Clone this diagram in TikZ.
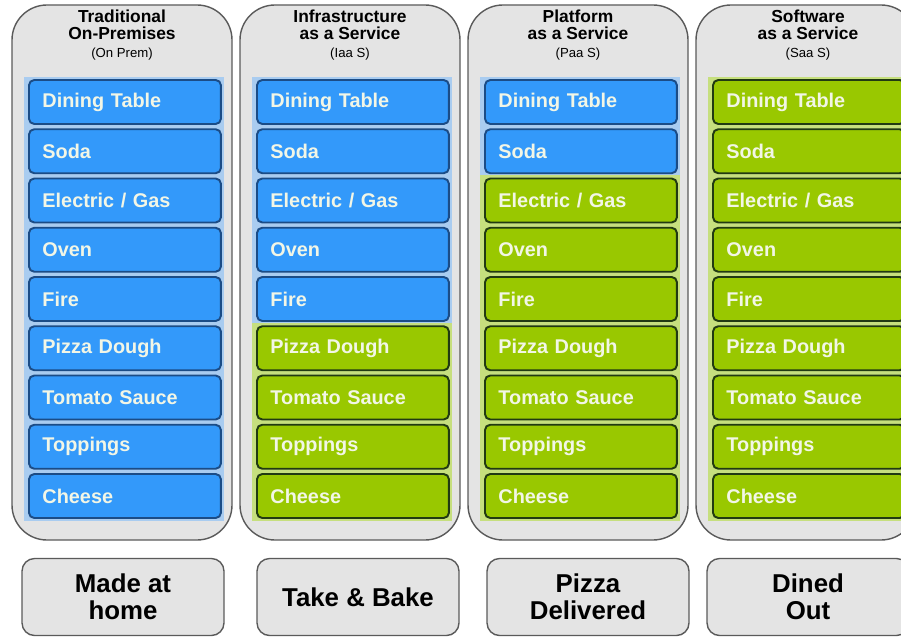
\documentclass[tikz,border=0pt]{standalone}
\usepackage{fontspec}
\setmainfont{Liberation Sans}
\definecolor{colgray}{HTML}{E4E4E4}
\definecolor{coledge}{HTML}{5A5A5A}
\definecolor{itemblue}{HTML}{3399FA}
\definecolor{edgeblue}{HTML}{1B4C86}
\definecolor{bandblue}{HTML}{A9CCF0}
\definecolor{itemgreen}{HTML}{99C800}
\definecolor{edgegreen}{HTML}{213A12}
\definecolor{bandgreen}{HTML}{C6DF7E}
\definecolor{itemtext}{HTML}{F2F6E6}
\tikzset{
  column/.style={draw=coledge, fill=colgray, line width=0.8pt, rounded corners=0.7cm},
  item/.style={draw, line width=1.1pt, rounded corners=3pt, anchor=west,
    minimum height=0.88cm, text width=3.3cm, inner xsep=0.27cm, align=left,
    text=itemtext, font=\fontsize{11.3}{12}\selectfont\bfseries},
  onprem/.style={item, fill=itemblue, draw=edgeblue},
  hosted/.style={item, fill=itemgreen, draw=edgegreen},
  heading/.style={align=center, font=\fontsize{9.9}{9.6}\selectfont\bfseries},
  tag/.style={draw=coledge, fill=colgray, line width=0.8pt, rounded corners=0.25cm,
    minimum width=4.04cm, minimum height=1.54cm, align=center,
    font=\fontsize{14.7}{15.4}\selectfont\bfseries}
}
\newcommand{\subhead}[1]{\\[0.5pt]{\fontsize{7.5}{8}\selectfont\mdseries #1}}
\begin{document}
\begin{tikzpicture}[x=0.02cm, y=-0.02cm]
  \useasboundingbox (0,0) rectangle (901,638);
  \clip (0,0) rectangle (901,638);

  % the four columns
  \foreach \c in {1,...,4}
    \draw[column] ({12+228*(\c-1)},5) rectangle ({232+228*(\c-1)},540);

  \node[heading] (h1) at (122,35) {Traditional\\On-Premises\subhead{(On Prem)}};
  \node[heading] (h2) at (350,35) {Infrastructure\\as a Service\subhead{(Iaa S)}};
  \node[heading] (h3) at (578,35) {Platform\\as a Service\subhead{(Paa S)}};
  \node[heading] (h4) at (808,35) {Software\\as a Service\subhead{(Saa S)}};

  % stack: c = column, n = how many rows are still ours (blue)
  \foreach \c/\n in {1/9, 2/5, 3/2, 4/0} {
    \foreach \r/\what in {1/Dining Table, 2/Soda, 3/{Electric / Gas}, 4/Oven, 5/Fire,
                          6/Pizza Dough, 7/Tomato Sauce, 8/Toppings, 9/Cheese} {
      \pgfmathsetmacro{\xl}{28+228*(\c-1)}
      \pgfmathsetmacro{\yc}{102+49.25*(\r-1)}
      \ifnum\r>\n
        \fill[bandgreen] (\xl-4,\yc-25) rectangle (\xl+196,\yc+25);
        \node[hosted] (c\c r\r) at (\xl,\yc) {\what};
      \else
        \fill[bandblue] (\xl-4,\yc-25) rectangle (\xl+196,\yc+25);
        \node[onprem] (c\c r\r) at (\xl,\yc) {\what};
      \fi
    }
  }

  % how the pizza gets eaten
  \node[tag] (t1) at (123,597) {Made at\\home};
  \node[tag] (t2) at (358,597) {Take \& Bake};
  \node[tag] (t3) at (588,597) {Pizza\\Delivered};
  \node[tag] (t4) at (808,597) {Dined\\Out};
\end{tikzpicture}
\end{document}
